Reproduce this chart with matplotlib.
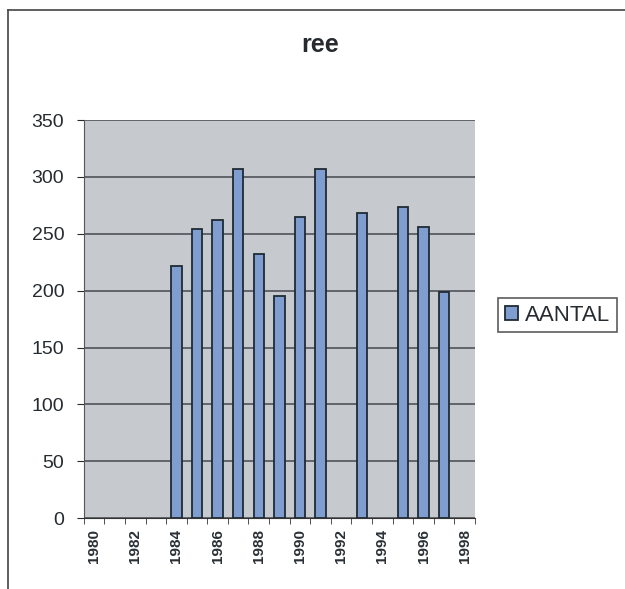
import numpy as np
import matplotlib.pyplot as plt
from matplotlib.lines import Line2D

plt.rcParams['font.family'] = ['Liberation Sans', 'DejaVu Sans']

years = list(range(1980, 1999))
aantal = [np.nan, np.nan, np.nan, np.nan, 222, 254, 262, 307, 232, 195,
          265, 307, np.nan, 268, np.nan, 274, 256, 199, np.nan]
tick_labels = [str(y) for y in years[::2]]

fig = plt.figure(figsize=(6.25, 5.89), dpi=100)
fig.patch.set_facecolor('white')
ax = fig.add_axes([0.134, 0.1205, 0.626, 0.6755])
ax.set_facecolor('#c6c9cd')

x = np.arange(len(years))
ax.bar(x, aantal, width=0.5, color='#7f9dcf', edgecolor='#1f2a33',
       linewidth=1.3, label='AANTAL', zorder=3)

ax.set_ylim(0, 350)
ax.set_yticks(range(0, 351, 50))
ax.set_xlim(-0.5, len(years) - 0.5)
ax.set_xticks(x[::2])
ax.set_xticklabels(tick_labels, rotation=90, fontsize=11, fontweight='bold',
                   color='#2a3035')
ax.set_xticks(np.arange(-0.5, len(years)), minor=True)
ax.tick_params(axis='x', which='major', length=0, pad=8)
ax.tick_params(axis='x', which='minor', length=4, color='#333333')
ax.tick_params(axis='y', length=5, labelsize=14, colors='#262b30', pad=9)
ax.yaxis.grid(True, color='#454a50', linewidth=1.1, zorder=1)
ax.set_axisbelow(True)

for side in ['top', 'right']:
    ax.spines[side].set_visible(False)
ax.spines['left'].set_color('#555555')
ax.spines['bottom'].set_color('#333333')

fig.text(0.512, 0.924, 'ree', ha='center', va='center', fontsize=18,
         fontweight='bold', color='#262b30')

leg = fig.legend(loc='center left', bbox_to_anchor=(0.797, 0.465),
                 fontsize=16, frameon=True, fancybox=False,
                 handlelength=0.6, handleheight=0.6, handletextpad=0.3,
                 borderpad=0.3, borderaxespad=0)
leg.get_frame().set_edgecolor('#333333')
leg.get_frame().set_linewidth(1.2)
for t in leg.get_texts():
    t.set_color('#262b30')

# chart area border (left and top)
fig.add_artist(Line2D([0.012, 0.012], [0.0, 0.983], color='#444444', lw=1.2))
fig.add_artist(Line2D([0.012, 1.0], [0.983, 0.983], color='#444444', lw=1.2))

fig.savefig('out.png', dpi=100)
